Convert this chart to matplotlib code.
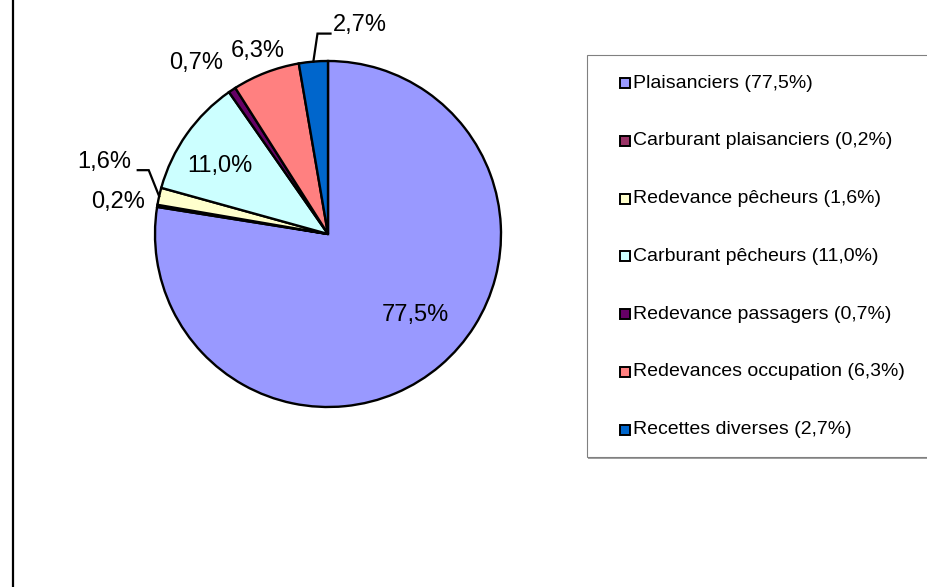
import numpy as np
import matplotlib
matplotlib.use('Agg')
import matplotlib.pyplot as plt
from matplotlib.patches import Rectangle

plt.rcParams['font.family'] = ['Liberation Sans', 'DejaVu Sans']

# données
categories = ['Plaisanciers', 'Carburant plaisanciers', 'Redevance pêcheurs',
              'Carburant pêcheurs', 'Redevance passagers', 'Redevances occupation',
              'Recettes diverses']
values = [77.5, 0.2, 1.6, 11.0, 0.7, 6.3, 2.7]
colors = ['#9999FF', '#993366', '#FFFFCC', '#CCFFFF', '#660066', '#FF8080', '#0066CC']

# placement des étiquettes (facteur de rayon, angle en degrés)
label_pos = [(0.69, -43), (1.23, 171.3), (1.36, 162.2), (0.74, 148),
             (1.25, 127.7), (1.13, 111), (1.22, 81.3)]
# lignes de rappel : index -> (rayon du coude, angle du coude, longueur horizontale)
leaders = {2: (1.10, 160.4, -11), 6: (1.16, 93, 13)}


def fmt(v):
    return ('%.1f%%' % v).replace('.', ',')


W, H = 927, 587
fig = plt.figure(figsize=(W / 100, H / 100), dpi=100)
ax = fig.add_axes([0, 0, 1, 1])

cx, cy, R = 328, H - 234, 173
wedges, _ = ax.pie(values, colors=colors, startangle=90, counterclock=False,
                   center=(cx, cy), radius=R,
                   wedgeprops=dict(edgecolor='black', linewidth=1.7))

for i, v in enumerate(values):
    rf, ang = label_pos[i]
    a = np.deg2rad(ang)
    ax.text(cx + rf * R * np.cos(a), cy + rf * R * np.sin(a), fmt(v),
            ha='center', va='center', fontsize=17, color='black')

for i, (rf, ang, hl) in leaders.items():
    w = wedges[i]
    mid = np.deg2rad((w.theta1 + w.theta2) / 2)
    a = np.deg2rad(ang)
    x0, y0 = cx + R * np.cos(mid), cy + R * np.sin(mid)
    x1, y1 = cx + rf * R * np.cos(a), cy + rf * R * np.sin(a)
    ax.plot([x0, x1, x1 + hl], [y0, y1, y1], color='black', lw=1.6,
            solid_joinstyle='miter')

# cadre gauche
ax.plot([13, 13], [0, H], color='black', lw=1.6)

# légende
lx0, ly_top, ly_bot = 587, H - 55, H - 457
ax.add_patch(Rectangle((lx0 + 1, ly_bot - 2), W, ly_top - ly_bot,
                       facecolor='#A0A0A0', edgecolor='none', zorder=3))
ax.add_patch(Rectangle((lx0, ly_bot), W, ly_top - ly_bot,
                       facecolor='white', edgecolor='#808080', lw=0.8, zorder=4))
for i, (c, v) in enumerate(zip(categories, values)):
    y = H - (83 + i * 57.8)
    ax.add_patch(Rectangle((620, y - 5), 10, 10, facecolor=colors[i],
                           edgecolor='black', lw=1.4, zorder=5))
    ax.text(633, y, '%s (%s)' % (c, fmt(v)), ha='left', va='center',
            fontsize=14, zorder=5)

ax.set_xlim(0, W)
ax.set_ylim(0, H)
ax.set_aspect('auto')
ax.axis('off')

fig.savefig('out.png', dpi=100)
